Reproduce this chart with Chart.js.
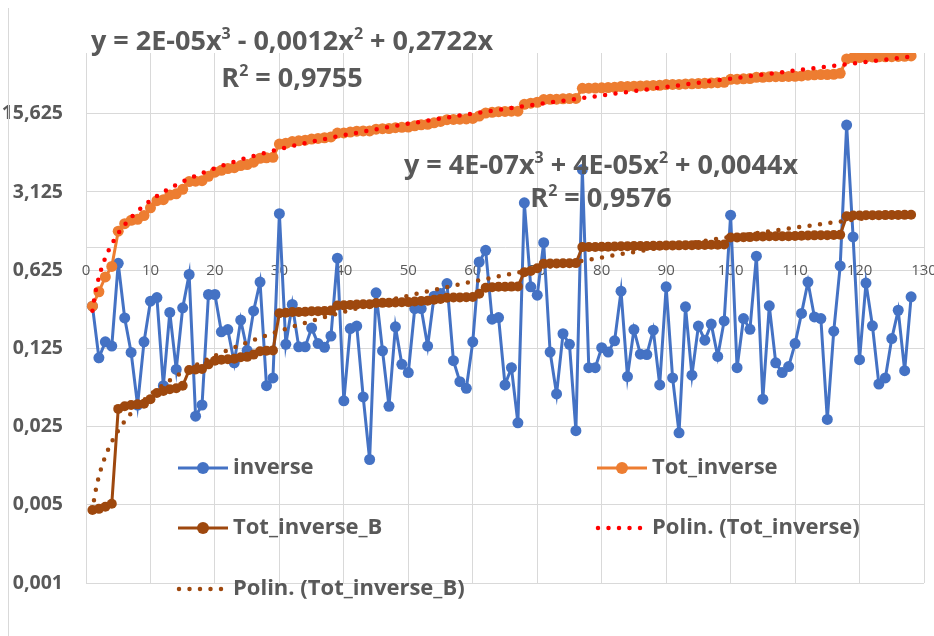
<!DOCTYPE html>
<html>
<head>
<meta charset="utf-8">
<script src="https://cdn.jsdelivr.net/npm/chart.js@4.4.0/dist/chart.umd.min.js"></script>
<style>
  html, body { margin: 0; padding: 0; background: #fff; overflow: hidden; }
  #wrap { position: relative; width: 934px; height: 636px; }
</style>
</head>
<body>
<div id="wrap"><canvas id="chart" width="934" height="636"></canvas></div>
<script>
// x = sample number 1..128
const xValues = Array.from({ length: 128 }, (_, i) => i + 1);

const inverseValues = [
  0.298, 0.103, 0.143, 0.131, 0.72, 0.234, 0.115, 0.039, 0.143, 0.33,
  0.356, 0.058, 0.262, 0.081, 0.288, 0.572, 0.031, 0.039, 0.379, 0.379,
  0.176, 0.184, 0.093, 0.224, 0.12, 0.27, 0.49, 0.058, 0.068, 2.0,
  0.136, 0.309, 0.129, 0.129, 0.19, 0.138, 0.128, 0.161, 0.80, 0.0425,
  0.188, 0.198, 0.046, 0.0127, 0.392, 0.119, 0.038, 0.195, 0.09, 0.076,
  0.284, 0.284, 0.131, 0.366, 0.387, 0.475, 0.097, 0.063, 0.055, 0.143,
  0.74, 0.94, 0.228, 0.236, 0.059, 0.084, 0.027, 2.5, 0.444, 0.374,
  1.1, 0.116, 0.049, 0.169, 0.136, 0.023, 4.96, 0.084, 0.084, 0.127,
  0.116, 0.146, 0.406, 0.07, 0.184, 0.111, 0.11, 0.182, 0.059, 0.444,
  0.068, 0.022, 0.294, 0.072, 0.198, 0.148, 0.206, 0.106, 0.22, 1.94,
  0.084, 0.231, 0.185, 0.834, 0.044, 0.3, 0.093, 0.076, 0.086, 0.138,
  0.257, 0.49, 0.239, 0.231, 0.029, 0.178, 0.683, 12.4, 1.24, 0.099,
  0.48, 0.199, 0.06, 0.068, 0.153, 0.274, 0.079, 0.361
];

const totInverseValues = [
  0.298, 0.401, 0.544, 0.675, 1.395, 1.629, 1.744, 1.783, 1.926, 2.256,
  2.612, 2.670, 2.932, 3.013, 3.301, 3.873, 3.904, 3.943, 4.322, 4.701,
  4.877, 5.061, 5.154, 5.378, 5.498, 5.768, 6.258, 6.316, 6.384, 8.384,
  8.520, 8.829, 8.958, 9.087, 9.277, 9.415, 9.543, 9.704, 10.504, 10.547,
  10.735, 10.933, 10.979, 10.992, 11.384, 11.503, 11.541, 11.736, 11.826, 11.902,
  12.186, 12.470, 12.601, 12.967, 13.354, 13.829, 13.926, 13.989, 14.044, 14.187,
  14.927, 15.867, 16.095, 16.331, 16.390, 16.474, 16.501, 19.001, 19.445, 19.819,
  20.919, 21.035, 21.084, 21.253, 21.389, 21.412, 26.372, 26.456, 26.540, 26.667,
  26.783, 26.929, 27.335, 27.405, 27.589, 27.700, 27.810, 27.992, 28.051, 28.495,
  28.563, 28.585, 28.879, 28.951, 29.149, 29.297, 29.503, 29.609, 29.829, 31.769,
  31.853, 32.084, 32.269, 33.103, 33.147, 33.447, 33.540, 33.616, 33.702, 33.840,
  34.097, 34.587, 34.826, 35.057, 35.086, 35.264, 35.947, 48.347, 49.587, 49.686,
  50.166, 50.365, 50.425, 50.493, 50.646, 50.920, 50.999, 51.360
];

const totInverseBValues = [
  0.0045, 0.0046, 0.0048, 0.0051, 0.036, 0.038, 0.039, 0.0395, 0.040, 0.044,
  0.050, 0.052, 0.054, 0.055, 0.058, 0.080, 0.081, 0.082, 0.090, 0.097,
  0.099, 0.100, 0.101, 0.104, 0.105, 0.110, 0.118, 0.119, 0.120, 0.258,
  0.260, 0.264, 0.265, 0.266, 0.268, 0.269, 0.270, 0.272, 0.302, 0.303,
  0.306, 0.309, 0.310, 0.310, 0.318, 0.319, 0.320, 0.322, 0.323, 0.324,
  0.328, 0.332, 0.334, 0.340, 0.346, 0.355, 0.356, 0.357, 0.358, 0.360,
  0.385, 0.435, 0.440, 0.444, 0.445, 0.446, 0.447, 0.600, 0.615, 0.650,
  0.715, 0.717, 0.718, 0.720, 0.722, 0.723, 1.005, 1.007, 1.009, 1.012,
  1.014, 1.017, 1.022, 1.023, 1.026, 1.028, 1.030, 1.033, 1.034, 1.040,
  1.041, 1.042, 1.046, 1.047, 1.050, 1.052, 1.055, 1.057, 1.060, 1.225,
  1.227, 1.232, 1.235, 1.250, 1.251, 1.255, 1.257, 1.259, 1.260, 1.263,
  1.268, 1.276, 1.280, 1.284, 1.285, 1.288, 1.298, 1.900, 1.925, 1.927,
  1.935, 1.939, 1.940, 1.942, 1.945, 1.950, 1.952, 1.958
];

// polynomial trend coefficients [c0, c1, c2, c3]
const trendTotCoef = [0, 0.2722, -0.0012, 0.000017];
const trendTotBCoef = [0, 0.0044, 0.00004, 0.0000004];

const yTickValues = [0.001, 0.005, 0.025, 0.125, 0.625, 3.125, 15.625];
const seriesNames = ['inverse', 'Tot_inverse', 'Tot_inverse_B', 'Polin. (Tot_inverse)', 'Polin. (Tot_inverse_B)'];
const seriesColors = ['#4472C4', '#ED7D31', '#9E480E', '#FF0000', '#9E480E'];

const eqTot = [['y = 2E-05x'], ['3', true], [' - 0,0012x'], ['2', true], [' + 0,2722x']];
const r2Tot = [['R'], ['2', true], [' = 0,9755']];
const eqTotB = [['y = 4E-07x'], ['3', true], [' + 4E-05x'], ['2', true], [' + 0,0044x']];
const r2TotB = [['R'], ['2', true], [' = 0,9576']];

const FONT = '"Open Sans", "Liberation Sans", sans-serif';
const TEXT_COLOR = '#595959';
const GRID_COLOR = '#D9D9D9';

function toPoints(ys) {
  return ys.map((y, i) => ({ x: xValues[i], y: y }));
}

function trendPoints(c) {
  const out = [];
  for (let x = 1; x <= 128; x += 0.25) {
    out.push({ x: x, y: c[0] + c[1] * x + c[2] * x * x + c[3] * x * x * x });
  }
  return out;
}

// text with superscripts, centred on cx
function drawRich(ctx, parts, cx, baseline, size) {
  const big = 'bold ' + size + 'px ' + FONT;
  const small = 'bold ' + Math.round(size * 0.6) + 'px ' + FONT;
  let total = 0;
  parts.forEach(p => { ctx.font = p[1] ? small : big; total += ctx.measureText(p[0]).width; });
  let x = cx - total / 2;
  ctx.textAlign = 'left';
  ctx.textBaseline = 'alphabetic';
  parts.forEach(p => {
    ctx.font = p[1] ? small : big;
    ctx.fillText(p[0], x, p[1] ? baseline - size * 0.4 : baseline);
    x += ctx.measureText(p[0]).width;
  });
}

const extras = {
  id: 'extras',
  afterDraw(chart) {
    const ctx = chart.ctx;
    ctx.save();

    // chart frame edge
    ctx.strokeStyle = GRID_COLOR;
    ctx.lineWidth = 1;
    ctx.beginPath();
    ctx.moveTo(8.5, 8);
    ctx.lineTo(8.5, 636);
    ctx.stroke();

    // trendline equations
    ctx.fillStyle = TEXT_COLOR;
    drawRich(ctx, eqTot, 292, 50, 27);
    drawRich(ctx, r2Tot, 292, 87, 27);
    drawRich(ctx, eqTotB, 601, 174, 27);
    drawRich(ctx, r2TotB, 601, 207, 27);

    // legend
    const entries = [
      { i: 0, x: 178, y: 468 },
      { i: 1, x: 597, y: 468 },
      { i: 2, x: 178, y: 528 },
      { i: 3, x: 597, y: 528 },
      { i: 4, x: 178, y: 589 }
    ];
    entries.forEach(e => {
      const color = seriesColors[e.i];
      const dotted = e.i >= 3;
      ctx.strokeStyle = color;
      ctx.fillStyle = color;
      if (dotted) {
        ctx.lineWidth = 4.5;
        ctx.lineCap = 'round';
        ctx.setLineDash([0, 10.5]);
        ctx.beginPath();
        ctx.moveTo(e.x + 1, e.y);
        ctx.lineTo(e.x + 49, e.y);
        ctx.stroke();
        ctx.setLineDash([]);
        ctx.lineCap = 'butt';
      } else {
        ctx.lineWidth = 3;
        ctx.beginPath();
        ctx.moveTo(e.x, e.y);
        ctx.lineTo(e.x + 50, e.y);
        ctx.stroke();
        ctx.beginPath();
        ctx.arc(e.x + 25, e.y, 6, 0, Math.PI * 2);
        ctx.fill();
      }
      ctx.fillStyle = TEXT_COLOR;
      ctx.font = 'bold 22px ' + FONT;
      ctx.textAlign = 'left';
      ctx.textBaseline = 'middle';
      ctx.fillText(seriesNames[e.i], e.x + 55, e.y);
    });
    ctx.restore();
  }
};

const lineSeries = (i, values, radius, order) => ({
  label: seriesNames[i],
  data: toPoints(values),
  borderColor: seriesColors[i],
  backgroundColor: seriesColors[i],
  pointBackgroundColor: seriesColors[i],
  pointBorderColor: seriesColors[i],
  pointBorderWidth: 0,
  pointRadius: radius,
  borderWidth: 3,
  tension: 0,
  order: order
});

const trendSeries = (i, coef, order) => ({
  label: seriesNames[i],
  data: trendPoints(coef),
  borderColor: seriesColors[i],
  borderWidth: 4.5,
  borderDash: [0, 10.5],
  borderCapStyle: 'round',
  pointRadius: 0,
  tension: 0,
  order: order
});

new Chart(document.getElementById('chart'), {
  type: 'line',
  data: {
    datasets: [
      lineSeries(0, inverseValues, 5.5, 5),
      lineSeries(1, totInverseValues, 5.5, 4),
      lineSeries(2, totInverseBValues, 5, 3),
      trendSeries(3, trendTotCoef, 1),
      trendSeries(4, trendTotBCoef, 2)
    ]
  },
  options: {
    responsive: false,
    animation: false,
    layout: { padding: { left: 0, right: 10, top: 53, bottom: 53 } },
    plugins: { legend: { display: false }, tooltip: { enabled: false } },
    scales: {
      x: {
        type: 'linear',
        min: 0,
        max: 130,
        position: { y: 1 },
        afterFit: s => { s.paddingLeft = 0; s.paddingRight = 0; },
        ticks: {
          stepSize: 10,
          maxRotation: 0,
          autoSkip: false,
          padding: 14,
          color: TEXT_COLOR,
          font: { family: FONT, size: 15 }
        },
        grid: { color: GRID_COLOR, drawTicks: false },
        border: { display: true, color: GRID_COLOR }
      },
      y: {
        type: 'logarithmic',
        min: 0.001,
        max: 54.6,
        position: 'left',
        afterBuildTicks: s => { s.ticks = yTickValues.map(v => ({ value: v })); },
        afterFit: s => { s.width = 86; },
        ticks: {
          padding: 23,
          color: TEXT_COLOR,
          font: { family: FONT, size: 19.5, weight: 'bold' },
          callback: v => String(v).replace('.', ',')
        },
        grid: { color: GRID_COLOR, drawTicks: false },
        border: { display: false }
      }
    }
  },
  plugins: [extras]
});
</script>
</body>
</html>
